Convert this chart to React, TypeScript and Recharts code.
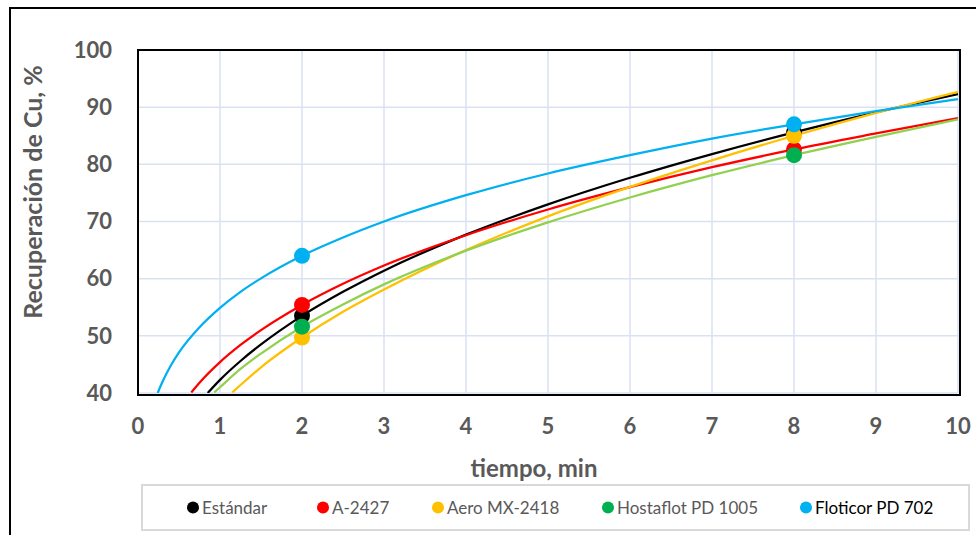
import React from 'react';
import { ComposedChart, Line, Scatter, XAxis, YAxis, CartesianGrid } from 'recharts';

// trend curve points (x = tiempo, y = recuperación)
const estandarX = [0.85, 1, 1.25, 1.5, 2, 2.5, 3, 4, 5, 6, 7, 8, 9, 10];
const estandarY = [40.0, 42.3, 45.6, 48.5, 53.5, 57.7, 61.4, 67.7, 73.0, 77.65, 81.8, 85.6, 89.1, 92.3];

const a2427X = [0.65, 0.75, 1, 1.25, 1.5, 2, 2.5, 3, 4, 5, 6, 7, 8, 9, 10];
const a2427Y = [40.1, 41.8, 45.4, 48.4, 51.0, 55.4, 59.1, 62.3, 67.6, 72.1, 76.0, 79.5, 82.6, 85.4, 88.1];

const aeroX = [1.15, 1.25, 1.5, 2, 2.5, 3, 4, 5, 6, 7, 8, 9, 10];
const aeroY = [40.1, 41.4, 44.5, 49.7, 54.2, 58.1, 65.0, 70.9, 76.05, 80.7, 85.0, 89.0, 92.7];

const hostaX = [0.93, 1, 1.25, 1.5, 2, 2.5, 3, 4, 5, 6, 7, 8, 9, 10];
const hostaY = [40.1, 41.0, 44.2, 46.9, 51.6, 55.5, 59.0, 64.9, 69.85, 74.2, 78.1, 81.6, 84.8, 87.85];

const floticorX = [0.24, 0.3, 0.4, 0.5, 0.75, 1, 1.25, 1.5, 2, 2.5, 3, 4, 5, 6, 7, 8, 9, 10];
const floticorY = [40.0, 42.0, 44.8, 47.1, 51.5, 54.9, 57.7, 60.05, 64.0, 67.2, 70.0, 74.6, 78.4, 81.6, 84.5, 87.0, 89.3, 91.4];

// measured points
const pointX = [2, 8];
const estandarPts = [53.5, 85.6];
const a2427Pts = [55.4, 82.6];
const aeroPts = [49.7, 85.0];
const hostaPts = [51.6, 81.6];
const floticorPts = [64.0, 87.0];

const xTicks = [0, 1, 2, 3, 4, 5, 6, 7, 8, 9, 10];
const yTicks = [40, 50, 60, 70, 80, 90, 100];

const zip = (xs: number[], ys: number[]) => xs.map((x, i) => ({ x, y: ys[i] }));

const series = [
  { name: 'Estándar', xs: estandarX, ys: estandarY, pts: estandarPts, line: '#000000', dot: '#000000', text: '#595959', lx: 193 },
  { name: 'A-2427', xs: a2427X, ys: a2427Y, pts: a2427Pts, line: '#FF0000', dot: '#FF0000', text: '#595959', lx: 323 },
  { name: 'Aero MX-2418', xs: aeroX, ys: aeroY, pts: aeroPts, line: '#FFC000', dot: '#FFC000', text: '#595959', lx: 438 },
  { name: 'Hostaflot PD 1005', xs: hostaX, ys: hostaY, pts: hostaPts, line: '#92D050', dot: '#00B050', text: '#595959', lx: 608 },
  { name: 'Floticor PD 702', xs: floticorX, ys: floticorY, pts: floticorPts, line: '#00B0F0', dot: '#00B0F0', text: '#000000', lx: 806 },
];

const font = 'Lato, "Open Sans", sans-serif';
const tickStyle = { fontFamily: font, fontSize: 22, fontWeight: 700, fill: '#595959' };

export default function App() {
  return (
    <div style={{ position: 'absolute', left: 0, top: 0, width: 976, height: 535, background: '#fff', overflow: 'hidden', fontFamily: font }}>
      <div style={{ position: 'absolute', left: 9, top: 7, width: 990, height: 560, border: '2px solid #000' }} />

      <ComposedChart width={976} height={535} margin={{ top: 50, right: 18, bottom: 112, left: 78 }}>
        <CartesianGrid stroke="#D9E1F2" strokeWidth={1.5} />
        <XAxis
          type="number"
          dataKey="x"
          domain={[0, 10]}
          ticks={xTicks}
          allowDataOverflow
          height={30}
          axisLine={false}
          tickLine={false}
          tickSize={0}
          tickMargin={25}
          tick={tickStyle}
        />
        <YAxis
          type="number"
          dataKey="y"
          domain={[40, 100]}
          ticks={yTicks}
          allowDataOverflow
          width={60}
          axisLine={false}
          tickLine={false}
          tickSize={0}
          tickMargin={26}
          tick={tickStyle}
        />
        {series.map(s => (
          <Scatter
            key={'p' + s.name}
            data={zip(pointX, s.pts)}
            fill={s.dot}
            isAnimationActive={false}
            shape={(p: any) => <circle cx={p.cx} cy={p.cy} r={8} fill={s.dot} />}
          />
        ))}
        {series.map(s => (
          <Line
            key={'l' + s.name}
            data={zip(s.xs, s.ys)}
            dataKey="y"
            type="monotone"
            stroke={s.line}
            strokeWidth={2.25}
            dot={false}
            activeDot={false}
            isAnimationActive={false}
          />
        ))}
      </ComposedChart>

      {/* plot area frame */}
      <div style={{ position: 'absolute', left: 137, top: 49, width: 820, height: 343, border: '2px solid #000', pointerEvents: 'none' }} />

      <div style={{ position: 'absolute', left: 32, top: 192, transform: 'translate(-50%, -50%) rotate(-90deg)', whiteSpace: 'nowrap', fontSize: 25, fontWeight: 700, color: '#595959' }}>
        Recuperación de Cu, %
      </div>
      <div style={{ position: 'absolute', left: 534, top: 467, transform: 'translate(-50%, -50%)', whiteSpace: 'nowrap', fontSize: 24, fontWeight: 700, color: '#595959' }}>
        tiempo, min
      </div>

      {/* legend */}
      <div style={{ position: 'absolute', left: 141, top: 484, width: 825, height: 43, border: '2px solid #D9D9D9' }} />
      {series.map(s => (
        <div key={'g' + s.name} style={{ position: 'absolute', left: s.lx - 6, top: 507, transform: 'translateY(-50%)', display: 'flex', alignItems: 'center', whiteSpace: 'nowrap' }}>
          <span style={{ width: 12, height: 12, borderRadius: 6, background: s.dot, display: 'inline-block', marginRight: 3 }} />
          <span style={{ fontSize: 17, color: s.text }}>{s.name}</span>
        </div>
      ))}
    </div>
  );
}
